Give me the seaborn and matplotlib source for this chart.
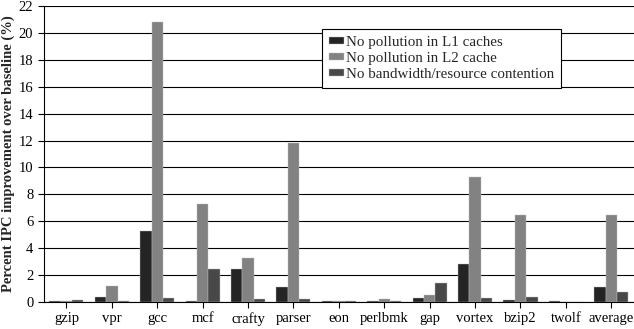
import matplotlib
matplotlib.use("Agg")
import matplotlib.pyplot as plt
import seaborn as sns
import pandas as pd

benchmarks = ["gzip", "vpr", "gcc", "mcf", "crafty", "parser", "eon", "perlbmk",
              "gap", "vortex", "bzip2", "twolf", "average"]
l1_pollution = [0.05, 0.4, 5.3, 0.05, 2.45, 1.1, 0.05, 0.05, 0.3, 2.8, 0.15, 0.05, 1.1]
l2_pollution = [0.05, 1.2, 20.8, 7.25, 3.3, 11.8, 0.05, 0.2, 0.55, 9.3, 6.5, 0.02, 6.5]
bw_contention = [0.12, 0.05, 0.3, 2.45, 0.2, 0.25, 0.05, 0.1, 1.45, 0.3, 0.4, 0.02, 0.75]
series_names = ["No pollution in L1 caches", "No pollution in L2 cache",
                "No bandwidth/resource contention"]
colors = ["#242424", "#828282", "#484848"]

rows = []
for name, vals in zip(series_names, [l1_pollution, l2_pollution, bw_contention]):
    for b, v in zip(benchmarks, vals):
        rows.append({"benchmark": b, "series": name, "value": v})
df = pd.DataFrame(rows)

sns.set_style("white")
plt.rcParams["font.family"] = ["Liberation Serif", "DejaVu Serif"]

fig = plt.figure(figsize=(6.34, 3.29), dpi=100)
ax = fig.add_axes([0.069, 0.082, 0.931, 0.9])

sns.barplot(data=df, x="benchmark", y="value", hue="series", palette=colors,
            width=0.75, ax=ax, edgecolor="#bdbdbd", linewidth=0.3, saturation=1)

ax.set_ylim(0, 22)
ax.set_yticks(range(0, 23, 2))
ax.yaxis.grid(True, color="black", linewidth=0.8)
ax.set_axisbelow(True)
ax.set_xlim(-0.5, len(benchmarks) - 0.5)
for s in ["top", "right"]:
    ax.spines[s].set_visible(False)
ax.spines["left"].set_color("black")
ax.spines["bottom"].set_color("black")
ax.spines["left"].set_linewidth(0.8)
ax.spines["bottom"].set_linewidth(0.8)
ax.tick_params(axis="both", labelsize=10.5, colors="black", direction="out", length=4, width=0.8)
ax.tick_params(axis="y", left=True)
ax.tick_params(axis="x", bottom=True)
ax.set_xlabel("")
ax.set_ylabel("Percent IPC improvement over baseline (%)", fontsize=10.5,
              fontweight="bold", labelpad=3)

leg = ax.legend(loc="upper left", bbox_to_anchor=(0.471, 0.922), fontsize=10.8,
                frameon=True, fancybox=False, edgecolor="black", framealpha=1,
                handlelength=1.0, handleheight=0.4, handletextpad=0.15,
                borderpad=0.45, labelspacing=0.2, borderaxespad=0)
leg.get_frame().set_linewidth(0.8)

fig.savefig("out.png", dpi=100)
